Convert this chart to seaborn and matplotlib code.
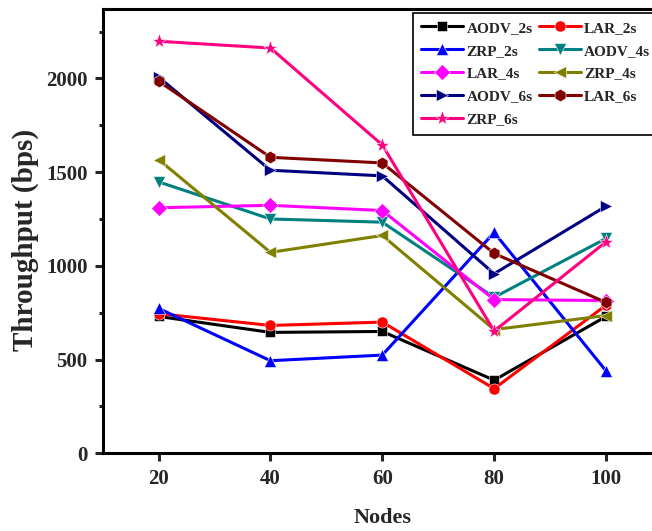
import matplotlib
matplotlib.use("Agg")
import matplotlib.pyplot as plt
import seaborn as sns
import pandas as pd

nodes = [20, 40, 60, 80, 100]

series_names = ["AODV_2s", "LAR_2s", "ZRP_2s",
                "AODV_4s", "LAR_4s", "ZRP_4s",
                "AODV_6s", "LAR_6s", "ZRP_6s"]

aodv_2s = [730, 645, 650, 390, 730]
lar_2s = [745, 682, 700, 345, 790]
zrp_2s = [773, 494, 524, 1178, 440]
aodv_4s = [1448, 1250, 1233, 832, 1146]
lar_4s = [1310, 1323, 1295, 820, 815]
zrp_4s = [1567, 1072, 1162, 660, 735]
aodv_6s = [2007, 1510, 1480, 958, 1318]
lar_6s = [1985, 1579, 1549, 1066, 805]
zrp_6s = [2198, 2162, 1645, 652, 1128]

values = [aodv_2s, lar_2s, zrp_2s, aodv_4s, lar_4s, zrp_4s,
          aodv_6s, lar_6s, zrp_6s]

colors = ["#000000", "#FF0000", "#0000FF",
          "#008080", "#FF00FF", "#808000",
          "#000080", "#800000", "#FF0080"]
markers = ["s", "o", "^", "v", "D", "<", ">", "h", "*"]
marker_sizes = [7, 8, 9, 9, 8, 9, 9, 9, 11]

df = pd.DataFrame({
    "Nodes": nodes * len(series_names),
    "Throughput": [v for vals in values for v in vals],
    "Protocol": [name for name in series_names for _ in nodes],
})

sns.set_style("ticks")
plt.rcParams["font.family"] = ["Liberation Serif", "DejaVu Serif"]
plt.rcParams["font.weight"] = "bold"

fig = plt.figure(figsize=(6.52, 5.31), dpi=100)
ax = fig.add_axes([0.1575, 0.1463, 0.8577, 0.8367])

for name, color, mk, ms in zip(series_names, colors, markers, marker_sizes):
    sub = df[df["Protocol"] == name]
    sns.lineplot(data=sub, x="Nodes", y="Throughput", ax=ax,
                 color=color, marker=mk, markersize=ms, linewidth=2.2,
                 markeredgecolor="white", markeredgewidth=0.4,
                 label=name, legend=False)

ax.set_xlim(10, 110)
ax.set_ylim(0, 2370)
ax.set_xticks(nodes)
ax.set_yticks([0, 500, 1000, 1500, 2000])
ax.set_yticks([250, 750, 1250, 1750, 2250], minor=True)

for side in ["left", "bottom", "top"]:
    ax.spines[side].set_linewidth(2.2)
    ax.spines[side].set_color("black")
ax.spines["right"].set_visible(False)

ax.tick_params(axis="both", which="major", direction="out", length=6,
               width=2.2, labelsize=15, pad=5)
ax.tick_params(axis="y", which="minor", direction="out", length=3, width=2.2)
for lab in ax.get_xticklabels() + ax.get_yticklabels():
    lab.set_fontweight("bold")

ax.set_xlabel("Nodes", fontsize=16, fontweight="bold", labelpad=14)
ax.set_ylabel("Throughput (bps)", fontsize=21, fontweight="bold")
# place the y label centre in pixel terms (x=25, y=240 from the top)
ax.yaxis.set_label_coords(25 / 652, 1 - 240 / 531, transform=fig.transFigure)
ax.yaxis.label.set_verticalalignment("center")

handles, labels = ax.get_legend_handles_labels()
order = [0, 2, 4, 6, 8, 1, 3, 5, 7]
leg = ax.legend([handles[i] for i in order], [labels[i] for i in order],
                ncol=2, loc="upper left",
                bbox_to_anchor=(413 / 652, 1 - 12.7 / 531),
                bbox_transform=fig.transFigure,
                prop={"family": "Liberation Serif", "weight": "bold", "size": 11},
                frameon=True, fancybox=False, framealpha=1,
                handlelength=2.75, handletextpad=0.2, columnspacing=0.4,
                labelspacing=0.6, borderpad=0.55, borderaxespad=0)
leg.get_frame().set_edgecolor("black")
leg.get_frame().set_linewidth(1.2)

fig.savefig("out.png", dpi=100)
